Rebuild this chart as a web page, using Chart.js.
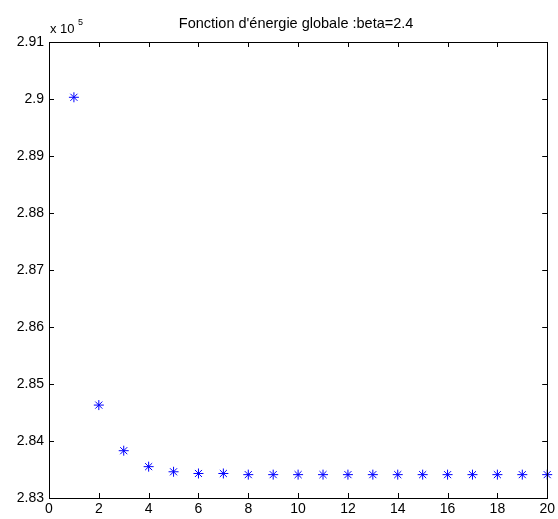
<!DOCTYPE html>
<html>
<head>
<meta charset="utf-8">
<script src="https://cdn.jsdelivr.net/npm/chart.js@4"></script>
<style>
  html, body { margin: 0; padding: 0; background: #fff; }
  #wrap { width: 558px; height: 519px; }
</style>
</head>
<body>
<div id="wrap"><canvas id="myChart" width="558" height="519"></canvas></div>
<script>
// itérations et énergie globale (unités de 10^5)
const iterations = [1, 2, 3, 4, 5, 6, 7, 8, 9, 10, 11, 12, 13, 14, 15, 16, 17, 18, 19, 20]
const energie = [2.9003, 2.8463, 2.8383, 2.8355, 2.8346, 2.8343, 2.8343, 2.8341, 2.8341, 2.8341,
                 2.8341, 2.8341, 2.8341, 2.8341, 2.8341, 2.8341, 2.8341, 2.8341, 2.8341, 2.8341]
const xTickLabels = ['0', '2', '4', '6', '8', '10', '12', '14', '16', '18', '20']
const yTickLabels = ['2.83', '2.84', '2.85', '2.86', '2.87', '2.88', '2.89', '2.9', '2.91']
const titre = "Fonction d'énergie globale :beta=2.4"

const police = "'Liberation Sans', Arial, sans-serif"
Chart.defaults.font.family = police
Chart.defaults.font.size = 14
Chart.defaults.color = '#000'

// boite + graduations vers l'intérieur, titre et exposant, style matlab
const boiteMatlab = {
  id: 'boiteMatlab',
  afterDraw(chart) {
    const { ctx, chartArea: a, scales } = chart
    const len = 5
    ctx.save()
    ctx.strokeStyle = '#000'
    ctx.lineWidth = 1
    ctx.strokeRect(Math.round(a.left) + 0.5, Math.round(a.top) + 0.5,
                   Math.round(a.right - a.left), Math.round(a.bottom - a.top))
    ctx.beginPath()
    scales.x.ticks.forEach(t => {
      const px = Math.round(scales.x.getPixelForValue(t.value)) + 0.5
      ctx.moveTo(px, a.bottom); ctx.lineTo(px, a.bottom - len)
      ctx.moveTo(px, a.top); ctx.lineTo(px, a.top + len)
    })
    scales.y.ticks.forEach(t => {
      const py = Math.round(scales.y.getPixelForValue(t.value)) + 0.5
      ctx.moveTo(a.left, py); ctx.lineTo(a.left + len, py)
      ctx.moveTo(a.right, py); ctx.lineTo(a.right - len, py)
    })
    ctx.stroke()

    ctx.fillStyle = '#000'
    ctx.textBaseline = 'alphabetic'
    // titre centré sur la zone du graphe
    ctx.font = '14.5px ' + police
    ctx.textAlign = 'center'
    ctx.fillText(titre, (a.left + a.right) / 2 - 2, a.top - 14)
    // exposant de l'axe y
    ctx.textAlign = 'left'
    ctx.font = '13px ' + police
    ctx.fillText('x 10', a.left + 1, a.top - 9)
    ctx.font = '9px ' + police
    ctx.fillText('5', a.left + 29, a.top - 17)
    ctx.restore()
  }
}

const ctx = document.getElementById('myChart')
new Chart(ctx, {
  type: 'scatter',
  data: {
    datasets: [{
      label: 'énergie',
      data: iterations.map((it, i) => ({ x: it, y: energie[i] })),
      pointStyle: 'star',
      pointRadius: 5,
      pointBorderWidth: 1,
      borderColor: '#0000ff',
      backgroundColor: '#0000ff',
      clip: false
    }]
  },
  options: {
    responsive: false,
    animation: false,
    layout: { padding: { left: 0, right: 9, top: 42, bottom: 0 } },
    plugins: {
      legend: { display: false },
      tooltip: { enabled: false },
      title: { display: false }
    },
    scales: {
      x: {
        type: 'linear',
        min: 0, max: 20,
        grid: { display: false, drawTicks: false },
        border: { display: false },
        ticks: {
          stepSize: 2, padding: 3, maxRotation: 0,
          callback: (v, i) => xTickLabels[i]
        },
        afterFit: s => { s.height = 21 }
      },
      y: {
        type: 'linear',
        min: 2.83, max: 2.91,
        grid: { display: false, drawTicks: false },
        border: { display: false },
        ticks: {
          stepSize: 0.01, padding: 5,
          callback: (v, i) => yTickLabels[i]
        },
        afterFit: s => { s.width = 49 }
      }
    }
  },
  plugins: [boiteMatlab]
})
</script>
</body>
</html>
